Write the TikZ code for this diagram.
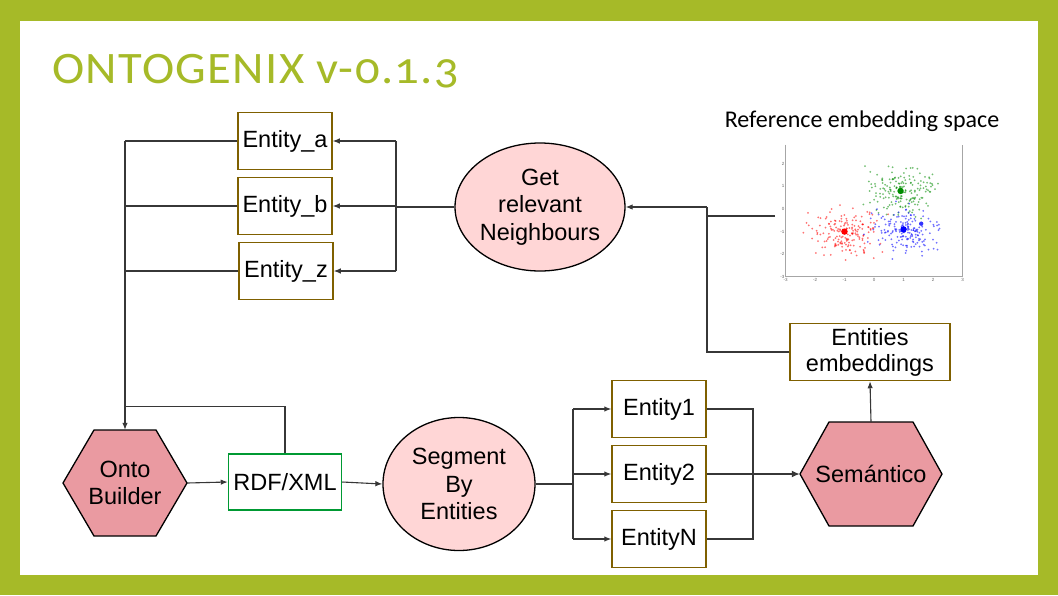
\documentclass[tikz,border=0pt]{standalone}
\usepackage{fontspec}
\setmainfont{Liberation Sans}
\newfontfamily\calfont{Carlito}
\newfontfamily\titlefont[Numbers=OldStyle,LetterSpace=3,FakeStretch=1.08]{Carlito}
\usetikzlibrary{arrows.meta,shapes.geometric}
\definecolor{slidegreen}{RGB}{166,186,40}
\definecolor{boxbrown}{RGB}{127,96,0}
\definecolor{boxgreen}{RGB}{0,153,51}
\definecolor{lightpink}{RGB}{255,214,214}
\definecolor{hexpink}{RGB}{234,154,161}
\definecolor{linegray}{RGB}{55,55,55}

\begin{document}
\begin{tikzpicture}[x=1pt,y=-1pt,
every node/.style={font=\fontsize{23.5}{27.5}\selectfont, align=center},
entbox/.style={shape=rectangle, draw=boxbrown, line width=1.5pt, fill=white, minimum width=94pt, minimum height=57pt, inner sep=0pt},
ellip/.style={shape=ellipse, draw=black, line width=1.3pt, fill=lightpink, inner sep=0pt},
hexa/.style={draw=black, line width=1.3pt, fill=hexpink, line join=miter},
hexlabel/.style={shape=rectangle, inner sep=0pt},
wire/.style={draw=linegray, line width=1.1pt},
thickwire/.style={draw=linegray, line width=2pt},
flow/.style={wire, -{Latex[length=7pt,width=5.5pt]}},
thickflow/.style={thickwire, -{Latex[length=8pt,width=7pt]}},
tick/.style={font=\fontsize{4.5}{5}\selectfont, text=black!60, inner sep=1pt}]

% slide frame
\useasboundingbox (0,0) rectangle (1058,595);
\fill[slidegreen] (0,0) rectangle (1058,595);
\fill[white] (20,21) rectangle (1038,575);
\path (52,83) node (title) [anchor=base west, inner sep=0pt, text=slidegreen, font=\titlefont\fontsize{45}{50}\selectfont] {ONTOGENIX v-0.1.3};

% neighbour entities
\path (285,141) node (ea) [entbox] {Entity\_a};
\path (285,206) node (eb) [entbox] {Entity\_b};
\path (286,271) node (ez) [entbox] {Entity\_z};
\path (540,207) node (get) [ellip, minimum width=164pt, minimum height=128pt] {Get\\relevant\\Neighbours};

% pipeline
\draw[hexa] (63,483) -- ++(31,-53) -- ++(62,0) -- ++(31,53) -- ++(-31,53) -- ++(-62,0) -- cycle;
\path (125,483) node (onto) [hexlabel, minimum width=124pt, minimum height=106pt] {Onto\\Builder};
\path (285,482) node (rdf) [entbox, draw=boxgreen, minimum width=113pt, minimum height=56pt] {RDF/XML};
\path (459,484) node (seg) [ellip, minimum width=152pt, minimum height=133pt] {Segment\\By\\Entities};
\path (659,409) node (e1) [entbox] {Entity1};
\path (659,474) node (e2) [entbox] {Entity2};
\path (659,539) node (eN) [entbox] {EntityN};
\draw[hexa] (800,474) -- ++(29,-52) -- ++(84,0) -- ++(29,52) -- ++(-29,52) -- ++(-84,0) -- cycle;
\path (871,474) node (sem) [hexlabel, minimum width=142pt, minimum height=104pt] {Semántico};
\path (870,352) node (emb) [entbox, minimum width=160pt, font=\fontsize{23.5}{26}\selectfont] {Entities\\embeddings};

% embedding space plot
\path (862,121) node (reftitle) [font=\calfont\fontsize{24}{28}\selectfont] {Reference embedding space};
\begin{scope}[shift={(874,209)}, x=29.5pt, y=22.6pt]
\draw[black!35, line width=0.8pt] (-3,2.85) -- (-3,-3) -- (3,-3) -- (3,2.85);
\foreach \t in {-3,...,3} \path (\t,-3) node (xt\t) [tick, below] {\t};
\foreach \t in {-3,...,2} \path (-3,\t) node (yt\t) [tick, left] {\t};
\pgfmathsetseed{11}
\foreach \cx/\cy/\cc in {-1/-1/red, 0.9/0.8/green!55!black, 1/-0.9/blue}{
  \foreach \i in {1,...,180}{
    \pgfmathsetmacro\px{\cx+0.55*(rand+rand+rand)}
    \pgfmathsetmacro\py{\cy+0.5*(rand+rand+rand)}
    \fill[\cc, opacity=.55] (\px,\py) circle (1pt);
  }
  \fill[\cc] (\cx,\cy) circle (3.2pt);
}
\fill[blue!80] (1.6,-0.65) circle (2.2pt);
\end{scope}
\coordinate (plotin) at (775,216);

% connectors, left block
\foreach \n in {ea,eb,ez} \draw[wire] (\n.west) -- (\n.west -| onto.north);
\draw[flow] (ea.west -| onto.north) -- (onto.north);
\draw[wire] (rdf.north) |- ([yshift=23pt]onto.north);

\coordinate (rbus) at (396,207);
\draw[wire] (get.west) -- (rbus);
\draw[wire] (rbus |- ea.east) -- (rbus |- ez.east);
\foreach \n in {ea,eb,ez} \draw[flow] (rbus |- \n.east) -- (\n.east);

% connectors, bottom flow
\draw[flow] (onto.east) -- (rdf.west);
\draw[flow] (rdf.east) -- (seg.west);
\coordinate (split) at (573,484);
\draw[thickwire] (seg.east) -- (split);
\draw[wire] (split |- e1.west) -- (split |- eN.west);
\foreach \n in {e1,e2,eN} \draw[flow] (split |- \n.west) -- (\n.west);
\coordinate (merge) at (753,474);
\draw[wire] (e1.east) -| (merge) |- (eN.east);
\draw[thickflow] (e2.east) -- (sem.west);
\draw[flow] (sem.north) -- (emb.south);

\coordinate (nbus) at (707,207);
\draw[wire] (emb.west) -| (nbus);
\draw[flow] (nbus) -- (get.east);
\draw[wire] (plotin) -- (plotin -| nbus);

\end{tikzpicture}
\end{document}
